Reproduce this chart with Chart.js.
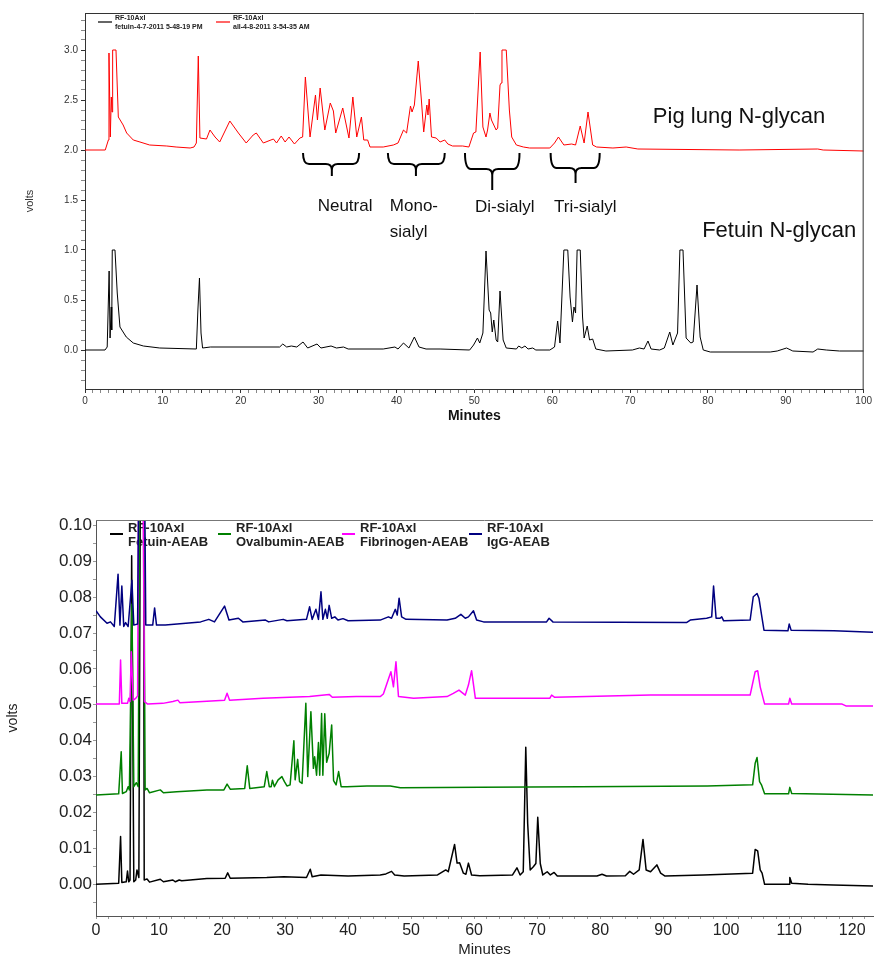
<!DOCTYPE html>
<html>
<head>
<meta charset="utf-8">
<script src="https://cdn.jsdelivr.net/npm/chart.js@4/dist/chart.umd.min.js"></script>
<style>
  body { margin: 0; background: #fff; }
  #glycanChart { position: absolute; left: 0; top: 0; }
  #aeabChart { position: absolute; left: 0; top: 470px; }
</style>
</head>
<body>
<canvas id="glycanChart" width="874" height="440"></canvas>
<canvas id="aeabChart" width="874" height="489"></canvas>
<script>
// ---- top panel: N-glycans, RF-10Axl trace (minutes / volts) ----
const pigTime = [0, 2.6, 3.0, 3.08, 3.25, 3.38, 3.47, 3.55, 3.98, 4.28, 4.9, 5.35, 6.2, 7.06, 8.3, 10.5, 11.7, 13.5, 14.0, 14.3, 14.55, 14.76, 15.6, 16.05, 16.7, 17.3, 18.6, 19.7, 20.7, 21.6, 22.0, 22.9, 24.2, 24.6, 25.2, 25.7, 26.2, 26.9, 27.6, 27.95, 28.3, 28.9, 29.6, 29.85, 30.2, 30.8, 31.5, 31.9, 32.2, 33.1, 33.9, 34.4, 34.9, 35.5, 35.8, 36.3, 36.6, 38.3, 39.6, 40.2, 40.9, 41.3, 41.8, 42.0, 42.3, 42.8, 43.2, 43.5, 43.9, 44.05, 44.2, 44.5, 45.1, 45.6, 46.2, 46.6, 47.2, 48.5, 49.3, 49.9, 50.2, 50.75, 51.1, 51.5, 51.7, 52.0, 52.2, 52.8, 53.0, 53.3, 53.45, 53.55, 54.1, 54.5, 54.8, 55.4, 56.3, 57.1, 59.7, 60.3, 60.8, 61.5, 62.5, 63.0, 63.6, 64.1, 64.6, 65.2, 65.7, 67.8, 69.5, 71.0, 84.0, 94.1, 94.8, 100];
const pigVolts = [2.00, 2.00, 2.10, 2.97, 2.13, 2.53, 2.38, 3.00, 3.00, 2.33, 2.25, 2.17, 2.10, 2.08, 2.05, 2.04, 2.03, 2.02, 2.03, 2.07, 2.94, 2.12, 2.11, 2.20, 2.13, 2.08, 2.29, 2.17, 2.07, 2.15, 2.17, 2.07, 2.11, 2.07, 2.14, 2.08, 2.13, 2.06, 2.12, 2.13, 2.73, 2.13, 2.55, 2.30, 2.62, 2.20, 2.47, 2.39, 2.17, 2.42, 2.12, 2.53, 2.13, 2.33, 2.10, 2.10, 2.03, 2.03, 2.05, 2.07, 2.20, 2.17, 2.44, 2.38, 2.45, 2.89, 2.50, 2.18, 2.45, 2.35, 2.51, 2.13, 2.12, 2.08, 2.10, 2.06, 2.04, 2.04, 2.03, 2.17, 2.18, 2.98, 2.23, 2.13, 2.20, 2.37, 2.30, 2.20, 2.22, 2.65, 2.67, 3.00, 3.00, 2.40, 2.13, 2.05, 2.03, 2.02, 2.02, 2.07, 2.13, 2.05, 2.06, 2.05, 2.24, 2.07, 2.38, 2.05, 2.03, 2.02, 2.03, 2.01, 2.00, 2.01, 2.00, 1.99];

const fetTime = [0, 2.57, 2.85, 3.1, 3.22, 3.37, 3.43, 3.5, 3.85, 4.14, 4.49, 5.3, 6.2, 7.5, 9.6, 14.3, 14.5, 14.7, 14.9, 15.1, 16.1, 25.0, 25.4, 25.9, 26.5, 27.2, 28.0, 28.6, 29.8, 30.3, 31.6, 32.3, 33.2, 33.8, 38.3, 39.8, 40.2, 40.9, 41.6, 42.3, 42.9, 43.8, 45.6, 49.4, 49.9, 50.4, 50.7, 51.1, 51.5, 51.9, 52.1, 52.3, 52.5, 52.8, 53.0, 53.3, 53.7, 54.1, 55.4, 55.7, 56.1, 56.5, 56.9, 57.5, 57.9, 59.7, 60.3, 60.7, 61.0, 61.5, 62.0, 62.3, 62.6, 62.8, 63.0, 63.2, 63.6, 63.9, 64.1, 64.5, 64.8, 65.2, 65.6, 66.9, 70.3, 71.2, 71.8, 72.3, 72.7, 73.8, 74.4, 75.1, 75.5, 76.1, 76.4, 76.8, 77.2, 77.8, 78.1, 78.6, 79.0, 79.4, 80.3, 88.0, 88.9, 90.1, 90.9, 93.5, 94.1, 95.2, 96.9, 100];
const fetVolts = [0, 0, 0.03, 0.79, 0.12, 0.43, 0.20, 1.0, 1.0, 0.57, 0.23, 0.13, 0.07, 0.04, 0.02, 0.01, 0.40, 0.72, 0.17, 0.02, 0.03, 0.03, 0.06, 0.03, 0.04, 0.03, 0.08, 0.02, 0.06, 0.02, 0.04, 0.02, 0.03, 0.01, 0.01, 0.03, 0.01, 0.07, 0.02, 0.13, 0.03, 0.01, 0.01, 0.0, 0.05, 0.12, 0.07, 0.17, 0.99, 0.40, 0.37, 0.18, 0.30, 0.10, 0.08, 0.59, 0.10, 0.02, 0.01, 0.04, 0.02, 0.04, 0.01, 0.02, 0.0, 0.0, 0.03, 0.29, 0.07, 1.0, 1.0, 0.53, 0.28, 0.43, 0.37, 1.0, 1.0, 0.33, 0.12, 0.24, 0.10, 0.11, 0.01, -0.01, 0.0, 0.02, 0.01, 0.09, 0.01, 0.0, 0.02, 0.18, 0.05, 0.17, 1.0, 1.0, 0.12, 0.07, 0.08, 0.65, 0.13, 0.0, -0.02, -0.02, -0.01, 0.02, -0.01, -0.02, 0.01, 0.0, -0.01, -0.01];

const glycanLegend = [
  ['RF-10Axl', 'fetuin-4-7-2011 5-48-19 PM'],
  ['RF-10Axl', 'all-4-8-2011 3-54-35 AM']
];
const sampleNames = ['Pig lung N-glycan', 'Fetuin N-glycan'];
const groupNames = [['Neutral'], ['Mono-', 'sialyl'], ['Di-sialyl'], ['Tri-sialyl']];
// brace spans in minutes and their depths in volts
const braceFrom = [28.0, 38.9, 48.8, 59.8];
const braceTo = [35.2, 46.2, 55.8, 66.1];
const braceMid = [31.7, 42.5, 52.3, 63.0];
const braceBar = [1.86, 1.86, 1.81, 1.82];
const braceTip = [1.74, 1.74, 1.60, 1.67];

// ---- bottom panel: AEAB labelled glycans (minutes / volts) ----
const fetAeabTime = [0, 3.6, 3.9, 4.1, 4.8, 5.0, 5.2, 5.4, 5.66, 6.0, 6.3, 6.5, 6.8, 7.15, 7.5, 7.65, 8.1, 8.5, 10.2, 10.7, 12.2, 12.6, 13.2, 13.6, 17.6, 20.5, 20.9, 21.3, 27.1, 29.8, 33.4, 34.0, 34.3, 35.7, 40.0, 45.1, 46.0, 46.9, 47.4, 48.9, 54.2, 55.5, 55.9, 56.9, 57.3, 57.7, 58.3, 58.7, 59.1, 59.6, 60.9, 66.1, 66.8, 67.3, 67.8, 68.2, 68.5, 68.9, 69.4, 69.8, 70.1, 70.5, 70.9, 71.6, 72.1, 72.7, 73.2, 79.5, 80.3, 81.0, 84.0, 84.7, 85.3, 86.2, 86.8, 87.3, 88.0, 89.0, 89.6, 90.3, 96.4, 104.2, 104.6, 105.0, 105.4, 105.7, 106.1, 110.0, 110.1, 110.4, 113.0, 117.0, 123.5];
const fetAeabVolts = [0.0, 0.0003, 0.0133, 0.0005, 0.0007, 0.0037, 0.0007, 0.0012, 0.0915, 0.0007, 0.0012, 0.0040, 0.0019, 0.16, 0.16, 0.0012, 0.0015, 0.0006, 0.0014, 0.0007, 0.0012, 0.0007, 0.0012, 0.0010, 0.0016, 0.0017, 0.0032, 0.0017, 0.0019, 0.0021, 0.0019, 0.0042, 0.0021, 0.0026, 0.0023, 0.0026, 0.0029, 0.0036, 0.0026, 0.0023, 0.0026, 0.0040, 0.0035, 0.0111, 0.0059, 0.0060, 0.0031, 0.0028, 0.0059, 0.0026, 0.0024, 0.0026, 0.0046, 0.0026, 0.0035, 0.0382, 0.0170, 0.0040, 0.0049, 0.0058, 0.0187, 0.0058, 0.0026, 0.0035, 0.0026, 0.0033, 0.0023, 0.0023, 0.0028, 0.0023, 0.0024, 0.0036, 0.0028, 0.0040, 0.0125, 0.0040, 0.0035, 0.0054, 0.0031, 0.0023, 0.0026, 0.0031, 0.0097, 0.0093, 0.0040, 0.0031, 0.0, 0.0, 0.0019, 0.0003, 0.0, -0.0002, -0.0005];

const ovaTime = [0, 3.6, 4.0, 4.2, 4.8, 5.1, 5.3, 5.7, 6.0, 6.4, 6.7, 7.05, 7.4, 7.8, 8.1, 8.5, 10.2, 10.7, 12.8, 17.6, 20.3, 20.8, 21.3, 23.6, 24.0, 24.4, 26.7, 27.1, 27.5, 27.8, 28.0, 28.3, 28.9, 29.5, 29.9, 30.3, 30.8, 31.4, 31.6, 32.0, 32.3, 32.7, 33.3, 33.6, 34.1, 34.5, 34.7, 35.0, 35.3, 35.5, 35.8, 36.0, 36.3, 36.6, 37.0, 37.4, 37.7, 38.1, 38.5, 38.9, 39.8, 43.0, 46.7, 48.3, 61.0, 76.8, 97.0, 104.2, 104.6, 104.9, 105.3, 105.6, 106.1, 109.9, 110.1, 110.4, 123.5];
const ovaVolts = [0.0249, 0.0252, 0.0369, 0.0253, 0.0258, 0.0272, 0.0263, 0.078, 0.0272, 0.0283, 0.0272, 0.16, 0.16, 0.0263, 0.0267, 0.0255, 0.0263, 0.0255, 0.0258, 0.0263, 0.0263, 0.0279, 0.0265, 0.0267, 0.0330, 0.0267, 0.0272, 0.0314, 0.0272, 0.0272, 0.0290, 0.0272, 0.0291, 0.0300, 0.0286, 0.0274, 0.0277, 0.0400, 0.0291, 0.0348, 0.0286, 0.0281, 0.0504, 0.0300, 0.0481, 0.0323, 0.0355, 0.0304, 0.0395, 0.0304, 0.0476, 0.0304, 0.0475, 0.0340, 0.0365, 0.0444, 0.0289, 0.0277, 0.0314, 0.0272, 0.0272, 0.0274, 0.0274, 0.0269, 0.0270, 0.0272, 0.0274, 0.0277, 0.0337, 0.0353, 0.0286, 0.0277, 0.0252, 0.0252, 0.0270, 0.0253, 0.0249];

const fibTime = [0, 3.7, 3.9, 4.1, 5.0, 5.2, 5.4, 5.6, 5.9, 6.3, 6.6, 6.9, 7.3, 7.7, 8.2, 10.6, 12.2, 13.0, 13.3, 16.9, 20.4, 20.8, 21.2, 26.5, 33.9, 37.0, 37.5, 41.3, 45.1, 45.6, 46.8, 47.2, 47.6, 48.0, 50.4, 55.7, 56.7, 57.6, 58.6, 59.1, 59.6, 60.2, 72.0, 72.3, 72.8, 88.0, 96.4, 103.8, 104.6, 105.0, 105.4, 106.1, 109.9, 110.1, 110.4, 118.4, 119.0, 123.5];
const fibVolts = [0.0502, 0.0502, 0.0625, 0.0504, 0.0504, 0.0518, 0.0509, 0.0648, 0.0513, 0.0518, 0.0525, 0.16, 0.16, 0.0509, 0.0502, 0.0504, 0.0509, 0.0513, 0.0506, 0.0509, 0.0513, 0.0532, 0.0513, 0.0518, 0.0523, 0.0529, 0.0521, 0.0523, 0.0523, 0.0530, 0.0592, 0.0550, 0.0620, 0.0523, 0.0518, 0.0523, 0.0532, 0.0541, 0.0527, 0.0555, 0.0595, 0.0518, 0.0518, 0.0527, 0.0521, 0.0527, 0.0527, 0.0527, 0.0592, 0.0595, 0.0550, 0.0502, 0.0502, 0.0518, 0.0502, 0.0502, 0.0497, 0.0497];

const iggTime = [0, 0.7, 1.75, 2.3, 2.9, 3.5, 3.8, 4.1, 4.4, 4.7, 5.1, 5.7, 6.0, 6.6, 7.0, 7.5, 7.9, 9.0, 9.3, 9.6, 11.0, 16.6, 17.9, 18.8, 20.4, 21.1, 22.6, 23.3, 26.9, 27.4, 29.7, 30.3, 33.4, 33.9, 34.3, 34.9, 35.3, 35.7, 36.0, 36.4, 36.7, 37.0, 37.4, 37.9, 38.4, 39.2, 40.0, 45.1, 46.4, 46.9, 47.5, 47.8, 48.1, 48.5, 49.2, 55.7, 57.0, 57.9, 58.6, 59.1, 59.9, 60.4, 61.5, 71.5, 71.9, 72.5, 93.7, 94.3, 96.9, 97.7, 98.0, 98.4, 99.0, 99.3, 99.6, 103.8, 104.3, 104.9, 105.2, 105.6, 106.0, 109.8, 110.0, 110.3, 117.1, 123.5];
const iggVolts = [0.0762, 0.0745, 0.0727, 0.0731, 0.0718, 0.0864, 0.0722, 0.0831, 0.0718, 0.0729, 0.0718, 0.0847, 0.0722, 0.0725, 0.16, 0.16, 0.0722, 0.0722, 0.0770, 0.0722, 0.0722, 0.0731, 0.0738, 0.0731, 0.0775, 0.0736, 0.0741, 0.0731, 0.0736, 0.0731, 0.0738, 0.0734, 0.0738, 0.0773, 0.0738, 0.0766, 0.0738, 0.0815, 0.0738, 0.0766, 0.0741, 0.0777, 0.0741, 0.0745, 0.0736, 0.0740, 0.0734, 0.0736, 0.0745, 0.0741, 0.0766, 0.0750, 0.0797, 0.0745, 0.0738, 0.0736, 0.0741, 0.0752, 0.0741, 0.0745, 0.0762, 0.0736, 0.0731, 0.0731, 0.0741, 0.0731, 0.0729, 0.0736, 0.0741, 0.0745, 0.0831, 0.0741, 0.0741, 0.0745, 0.0734, 0.0736, 0.0801, 0.0810, 0.0797, 0.0752, 0.0708, 0.0706, 0.0725, 0.0708, 0.0706, 0.0702];

const aeabLegend = [
  ['RF-10Axl', 'Fetuin-AEAB'],
  ['RF-10Axl', 'Ovalbumin-AEAB'],
  ['RF-10Axl', 'Fibrinogen-AEAB'],
  ['RF-10Axl', 'IgG-AEAB']
];

const FONT = '"Liberation Sans", Arial, sans-serif';
const xy = (t, v) => t.map((x, i) => ({ x: x, y: v[i] }));
const near = (v, step) => Math.abs(v / step - Math.round(v / step)) < 1e-6;

// legend drawn by hand: short line + two text rows per trace
const traceKey = {
  id: 'traceKey',
  beforeDatasetsDraw(chart, args, opts) {
    const ctx = chart.ctx;
    ctx.save();
    ctx.font = opts.font;
    ctx.textBaseline = 'middle';
    chart.data.datasets.forEach((ds, i) => {
      const x = opts.xs[i];
      ctx.strokeStyle = ds.borderColor;
      ctx.lineWidth = opts.lineWidth;
      ctx.beginPath();
      ctx.moveTo(x, opts.y);
      ctx.lineTo(x + opts.len, opts.y);
      ctx.stroke();
      ctx.fillStyle = '#222';
      ds.label.forEach((line, k) => {
        ctx.fillText(line, x + opts.textDx, opts.textY + k * opts.rowGap);
      });
    });
    ctx.restore();
  }
};

// box edges that the axes don't draw
const frame = {
  id: 'frame',
  afterDraw(chart, args, opts) {
    const { ctx, chartArea: a } = chart;
    ctx.save();
    ctx.strokeStyle = opts.color;
    ctx.lineWidth = 1;
    ctx.beginPath();
    ctx.moveTo(a.left, a.top + 0.5);
    ctx.lineTo(a.right, a.top + 0.5);
    if (opts.right) {
      ctx.moveTo(a.right - 0.5, a.top);
      ctx.lineTo(a.right - 0.5, a.bottom);
    }
    ctx.stroke();
    ctx.restore();
  }
};

// curly braces under the glycan groups plus the text notes
const glycanNotes = {
  id: 'glycanNotes',
  afterDatasetsDraw(chart) {
    const { ctx, scales: { x, y } } = chart;
    ctx.save();
    ctx.strokeStyle = '#000';
    ctx.lineWidth = 2;
    const top = y.getPixelForValue(1.97);
    for (let i = 0; i < braceFrom.length; i++) {
      const x0 = x.getPixelForValue(braceFrom[i]);
      const x1 = x.getPixelForValue(braceTo[i]);
      const xc = x.getPixelForValue(braceMid[i]);
      const yb = y.getPixelForValue(braceBar[i]);
      const yt = y.getPixelForValue(braceTip[i]);
      const r = 6;
      ctx.beginPath();
      ctx.moveTo(x0, top);
      ctx.quadraticCurveTo(x0, yb, x0 + r, yb);
      ctx.lineTo(xc - r, yb);
      ctx.quadraticCurveTo(xc, yb, xc, yb + r);
      ctx.lineTo(xc, yt);
      ctx.moveTo(xc, yb + r);
      ctx.quadraticCurveTo(xc, yb, xc + r, yb);
      ctx.lineTo(x1 - r, yb);
      ctx.quadraticCurveTo(x1, yb, x1, top);
      ctx.stroke();
    }
    ctx.fillStyle = '#111';
    ctx.textBaseline = 'middle';
    ctx.font = '17px ' + FONT;
    ctx.textAlign = 'center';
    ctx.fillText(groupNames[0][0], x.getPixelForValue(33.4), y.getPixelForValue(1.44));
    ctx.textAlign = 'left';
    ctx.fillText(groupNames[1][0], x.getPixelForValue(39.15), y.getPixelForValue(1.44));
    ctx.fillText(groupNames[1][1], x.getPixelForValue(39.15), y.getPixelForValue(1.18));
    ctx.textAlign = 'center';
    ctx.fillText(groupNames[2][0], x.getPixelForValue(53.9), y.getPixelForValue(1.43));
    ctx.fillText(groupNames[3][0], x.getPixelForValue(64.25), y.getPixelForValue(1.43));
    ctx.font = '22px ' + FONT;
    ctx.fillText(sampleNames[0], x.getPixelForValue(84.0), y.getPixelForValue(2.33));
    ctx.fillText(sampleNames[1], x.getPixelForValue(89.15), y.getPixelForValue(1.19));
    ctx.restore();
  }
};

const trace = (label, color, data, width, order) => ({
  label: label, data: data, borderColor: color, backgroundColor: color,
  borderWidth: width, pointRadius: 0, tension: 0, borderJoinStyle: 'round', order: order
});

new Chart(document.getElementById('glycanChart'), {
  type: 'line',
  data: {
    datasets: [
      trace(glycanLegend[0], '#000000', xy(fetTime, fetVolts), 1, 1),
      trace(glycanLegend[1], '#ff0000', xy(pigTime, pigVolts), 1, 2)
    ]
  },
  options: {
    responsive: false,
    animation: false,
    layout: { padding: { left: 0, right: 10, top: 13, bottom: 0 } },
    plugins: {
      legend: { display: false },
      tooltip: { enabled: false },
      traceKey: { xs: [98, 216], y: 22, len: 14, textDx: 17, textY: 18.5, rowGap: 8.5, lineWidth: 1.2, font: 'bold 7px ' + FONT },
      frame: { color: '#333', right: true }
    },
    scales: {
      x: {
        type: 'linear', min: 0, max: 100,
        border: { color: '#333' },
        grid: { drawOnChartArea: false, tickLength: 4, tickColor: c => near(c.tick.value, 5) ? '#333' : '#888' },
        ticks: {
          stepSize: 1, autoSkip: false, maxTicksLimit: 1000, maxRotation: 0, padding: 2, includeBounds: false,
          color: '#333', font: { family: FONT, size: 10 },
          callback: v => near(v, 10) ? String(Math.round(v)) : ''
        },
        title: { display: true, text: 'Minutes', color: '#111', font: { family: FONT, size: 14, weight: 'bold' }, padding: { top: 0, bottom: 15 } },
        afterFit: s => { s.height = 51; }
      },
      y: {
        type: 'linear', min: -0.39, max: 3.37,
        border: { color: '#333' },
        grid: { drawOnChartArea: false, tickLength: 4, tickColor: c => near(c.tick.value, 0.5) ? '#333' : '#888' },
        ticks: {
          stepSize: 0.1, autoSkip: false, maxTicksLimit: 1000, padding: 3, includeBounds: false,
          color: '#333', font: { family: FONT, size: 10 },
          callback: v => near(v, 0.5) ? v.toFixed(1) : ''
        },
        title: { display: true, text: 'volts', color: '#333', font: { family: FONT, size: 11 }, padding: { top: 23, bottom: 0 } },
        afterFit: s => { s.width = 85; }
      }
    }
  },
  plugins: [traceKey, frame, glycanNotes]
});

new Chart(document.getElementById('aeabChart'), {
  type: 'line',
  data: {
    datasets: [
      trace(aeabLegend[0], '#000000', xy(fetAeabTime, fetAeabVolts), 1.5, 4),
      trace(aeabLegend[1], '#008000', xy(ovaTime, ovaVolts), 1.5, 3),
      trace(aeabLegend[2], '#ff00ff', xy(fibTime, fibVolts), 1.5, 2),
      trace(aeabLegend[3], '#000080', xy(iggTime, iggVolts), 1.5, 1)
    ]
  },
  options: {
    responsive: false,
    animation: false,
    layout: { padding: { left: 0, right: 1, top: 50, bottom: 0 } },
    plugins: {
      legend: { display: false },
      tooltip: { enabled: false },
      traceKey: { xs: [110, 218, 342, 469], y: 64, len: 13, textDx: 18, textY: 58, rowGap: 14, lineWidth: 2, font: 'bold 13px ' + FONT },
      frame: { color: '#777', right: false }
    },
    scales: {
      x: {
        type: 'linear', min: 0, max: 123.3,
        border: { color: '#555' },
        grid: { drawOnChartArea: false, tickLength: 3, tickColor: '#999' },
        ticks: {
          stepSize: 2, autoSkip: false, maxTicksLimit: 1000, maxRotation: 0, padding: 2, includeBounds: false,
          color: '#222', font: { family: FONT, size: 16 },
          callback: v => near(v, 10) ? String(Math.round(v)) : ''
        },
        title: { display: true, text: 'Minutes', color: '#222', font: { family: FONT, size: 15 }, padding: { top: 0, bottom: 0 } },
        afterFit: s => { s.height = 43; }
      },
      y: {
        type: 'linear', min: -0.00883, max: 0.10148,
        border: { color: '#555' },
        grid: { drawOnChartArea: false, tickLength: 3, tickColor: '#999' },
        ticks: {
          stepSize: 0.005, autoSkip: false, maxTicksLimit: 1000, padding: 1, includeBounds: false,
          color: '#222', font: { family: FONT, size: 17 },
          callback: v => near(v, 0.01) ? v.toFixed(2) : ''
        },
        title: { display: true, text: 'volts', color: '#222', font: { family: FONT, size: 14 }, padding: { top: 5, bottom: 0 } },
        afterFit: s => { s.width = 96; }
      }
    }
  },
  plugins: [traceKey, frame]
});
</script>
</body>
</html>
